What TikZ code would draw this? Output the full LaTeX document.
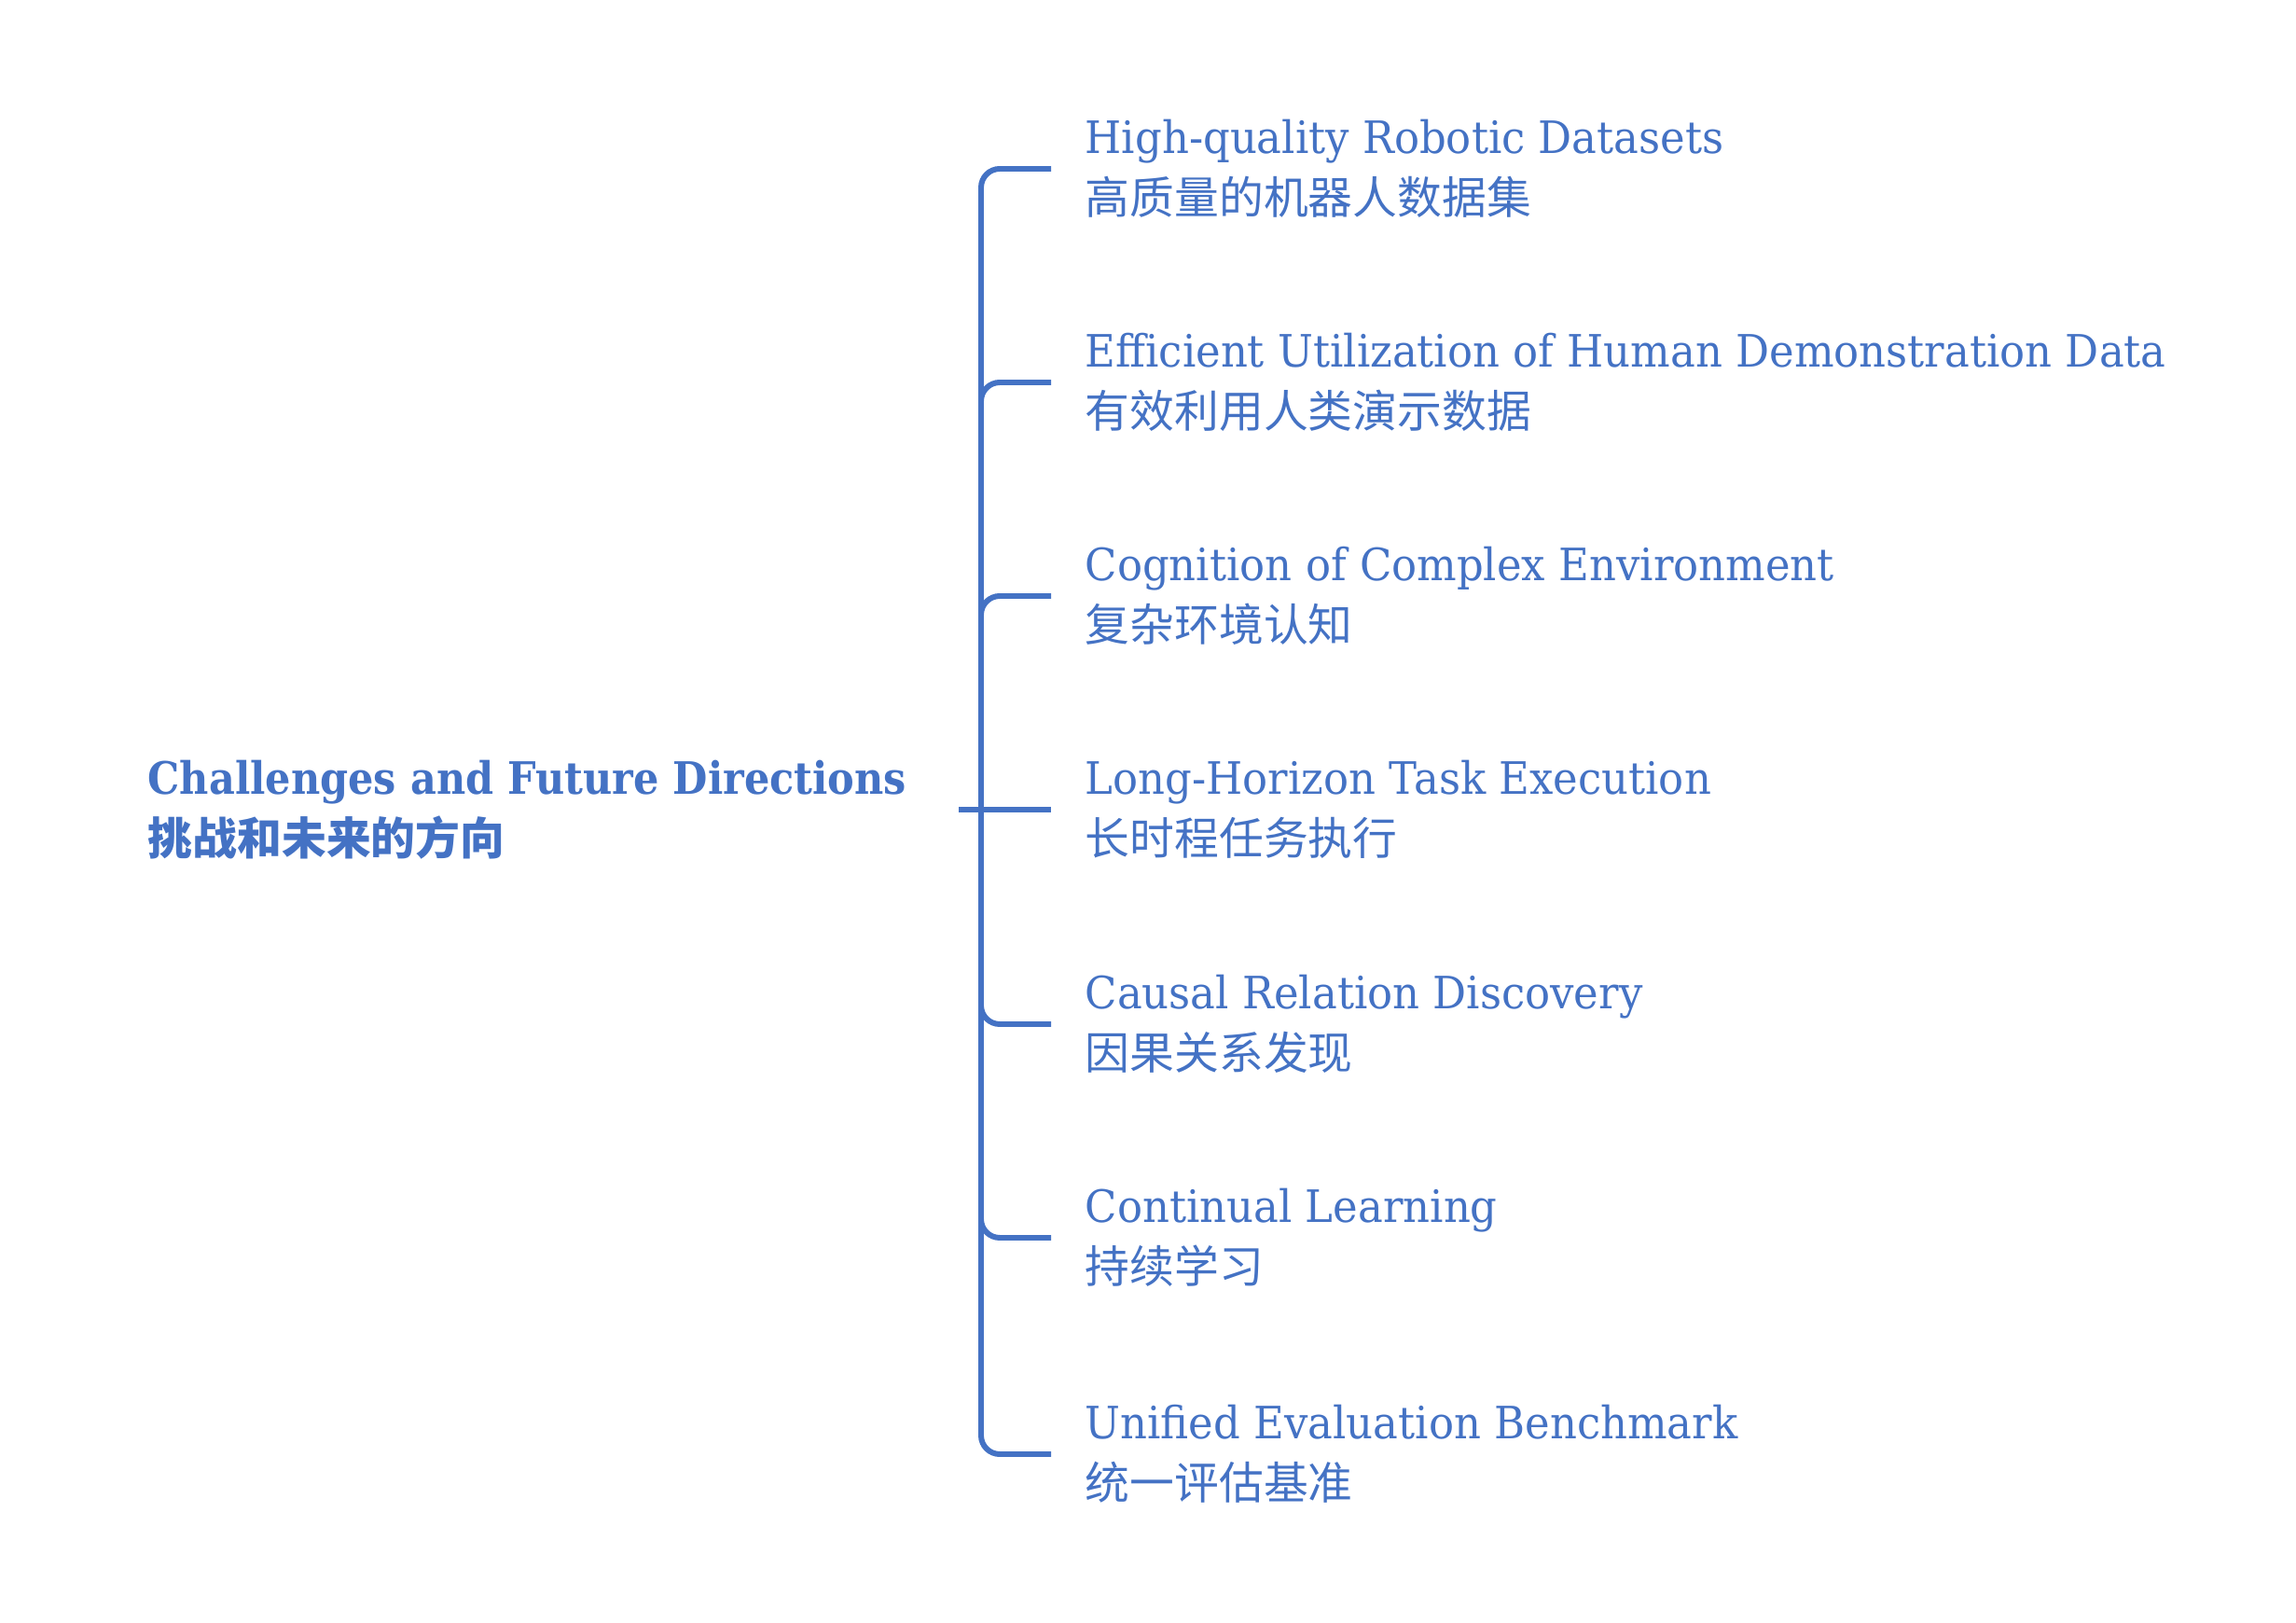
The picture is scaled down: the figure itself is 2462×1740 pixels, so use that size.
\documentclass[tikz,border=0pt]{standalone}
\usepackage{fontspec}
\usepackage{xcolor}
\setmainfont{DejaVu Serif}[FakeStretch=0.94]
\newfontfamily\rootfont{DejaVu Serif}[FakeStretch=0.9]
\newfontfamily\cjk{Noto Sans CJK SC}
\definecolor{mapblue}{HTML}{4472C4}

\begin{document}
\begin{tikzpicture}[x=0.01cm, y=-0.01cm,
  branch/.style={mapblue, line width=1.7pt, rounded corners=0.2cm},
  topic/.style={anchor=west, align=left, text=mapblue, inner xsep=0.36cm,
    inner ysep=0pt, font=\fontsize{13.6pt}{18.5pt}\selectfont}]
\useasboundingbox (0,0) rectangle (2462,1740);

% Spine
\coordinate (hub) at (1052,868);
\coordinate (stub) at (1028,868);

% Root topic
\node[topic, inner xsep=0pt, font=\fontsize{13.6pt}{18.5pt}\selectfont\rootfont\bfseries] (root) at (158,868)
  {Challenges and Future Directions\\{\cjk 挑战和未来的方向}};

% Directions
\node[topic] (data) at (1127,181) {High-quality Robotic Datasets\\{\cjk 高质量的机器人数据集}};
\node[topic] (demo) at (1127,410) {Efficient Utilization of Human Demonstration Data\\{\cjk 有效利用人类演示数据}};
\node[topic] (env) at (1127,639) {Cognition of Complex Environment\\{\cjk 复杂环境认知}};
\node[topic] (task) at (1127,868) {Long-Horizon Task Execution\\{\cjk 长时程任务执行}};
\node[topic] (cause) at (1127,1098) {Causal Relation Discovery\\{\cjk 因果关系发现}};
\node[topic] (learn) at (1127,1327) {Continual Learning\\{\cjk 持续学习}};
\node[topic] (bench) at (1127,1559) {Unified Evaluation Benchmark\\{\cjk 统一评估基准}};

% Branches
\draw[branch] (hub) |- (data.west);
\draw[branch] (hub) |- (demo.west);
\draw[branch] (hub) |- (env.west);
\draw[branch] (stub) -- (task.west);
\draw[branch] (hub) |- (cause.west);
\draw[branch] (hub) |- (learn.west);
\draw[branch] (hub) |- (bench.west);

\end{tikzpicture}
\end{document}
